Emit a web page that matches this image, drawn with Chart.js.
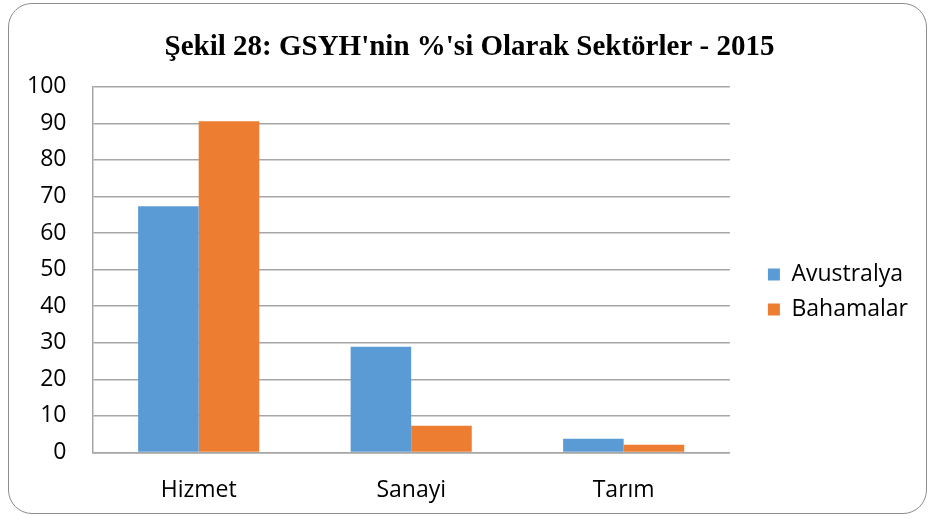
<!DOCTYPE html>
<html>
<head>
<meta charset="utf-8">
<script src="https://cdn.jsdelivr.net/npm/chart.js@4"></script>
<style>
  body { margin: 0; background: #fff; }
  #wrap { position: relative; width: 934px; height: 519px; }
  #frame {
    position: absolute; left: 8px; top: 3px; width: 917px; height: 509px;
    border: 1px solid #8c8c8c; border-radius: 24px; pointer-events: none;
  }
</style>
</head>
<body>
<div id="wrap">
  <canvas id="miGrafico"></canvas>
  <div id="frame"></div>
</div>
<script>
var sektorler = ['Hizmet', 'Sanayi', 'Tarım'];
var avustralya = [67.3, 28.9, 3.7];
var bahamalar = [90.6, 7.3, 2.1];
var yTicks = [0, 10, 20, 30, 40, 50, 60, 70, 80, 90, 100];

var ctx = document.getElementById('miGrafico').getContext('2d');

var data = {
    labels: sektorler,
    datasets: [{
        label: 'Avustralya',
        data: avustralya,
        backgroundColor: '#5b9bd5',
        borderWidth: 0
    }, {
        label: 'Bahamalar',
        data: bahamalar,
        backgroundColor: '#ed7d31',
        borderWidth: 0
    }]
};

var gri = '#a6a6a6';
var yazi = { family: '"Open Sans", sans-serif', size: 23 };

// legendi ve başlığı biraz kaydır
var kaydir = {
    id: 'kaydir',
    afterLayout: function (chart) {
        var lg = chart.legend;
        lg.left += 26; lg.right += 26;
        lg.top += 28; lg.bottom += 28;
        var tb = chart.titleBlock;
        tb.left += 23; tb.right += 23;
    }
};

var options = {
    responsive: true,
    maintainAspectRatio: false,
    animation: false,
    layout: { padding: { left: 1, right: 42, top: 0, bottom: -9 } },
    datasets: { bar: { categoryPercentage: 0.57, barPercentage: 1 } },
    plugins: {
        title: {
            display: true,
            text: "Şekil 28: GSYH'nin %'si Olarak Sektörler - 2015",
            color: '#000',
            font: { family: '"Liberation Serif", serif', size: 29, weight: 'bold' },
            padding: { top: 30, bottom: 22 }
        },
        legend: {
            position: 'right',
            labels: {
                boxWidth: 12,
                boxHeight: 12,
                padding: 12,
                color: '#000',
                font: yazi
            }
        },
        tooltip: { enabled: false }
    },
    scales: {
        y: {
            min: 0,
            max: 100,
            afterBuildTicks: function (axis) {
                axis.ticks = yTicks.map(function (v) { return { value: v }; });
            },
            ticks: { color: '#000', font: yazi, padding: 26 },
            grid: { color: gri, lineWidth: 1.5, drawTicks: false },
            border: { display: true, color: gri, width: 1.5 }
        },
        x: {
            ticks: { color: '#000', font: yazi, padding: 24 },
            grid: { display: false, drawTicks: false },
            border: { display: true, color: gri, width: 1.5 }
        }
    }
};

var miGrafico = new Chart(ctx, {
    type: 'bar',
    data: data,
    options: options,
    plugins: [kaydir]
});
</script>
</body>
</html>
